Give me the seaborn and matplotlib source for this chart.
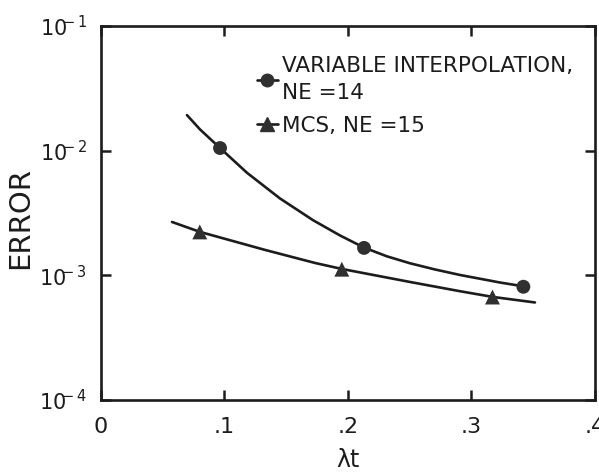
import numpy as np
import pandas as pd
import matplotlib
matplotlib.use("Agg")
import matplotlib.pyplot as plt
from matplotlib.lines import Line2D
from matplotlib.ticker import NullLocator
import seaborn as sns

# Measured error points
vi_x = [0.0964, 0.213, 0.342]
vi_err = [1.05e-2, 1.66e-3, 8.1e-4]
mcs_x = [0.080, 0.195, 0.317]
mcs_err = [2.23e-3, 1.12e-3, 6.7e-4]

# Hand-faired curves through the measurements
vi_curve_x = [0.0696, 0.0802, 0.0964, 0.1182, 0.1449, 0.1717, 0.1935,
              0.2130, 0.2316, 0.2502, 0.2704, 0.2907, 0.3231, 0.3417]
vi_curve_err = [1.93e-2, 1.48e-2, 1.05e-2, 6.65e-3, 4.14e-3, 2.77e-3, 2.09e-3,
                1.67e-3, 1.42e-3, 1.25e-3, 1.115e-3, 1.007e-3, 8.76e-4, 8.18e-4]
mcs_curve_x = [0.0575, 0.0802, 0.1328, 0.1733, 0.1951, 0.2502, 0.2907,
               0.3174, 0.3514]
mcs_curve_err = [2.68e-3, 2.23e-3, 1.60e-3, 1.257e-3, 1.125e-3, 8.85e-4, 7.46e-4,
                 6.71e-4, 6.06e-4]

x_ticks = [0.0, 0.1, 0.2, 0.3, 0.4]
x_tick_labels = ["0", ".1", ".2", ".3", ".4"]
y_ticks = [1e-4, 1e-3, 1e-2, 1e-1]
y_tick_labels = [r"$10^{\!\!\!-4}$", r"$10^{\!\!\!-3}$",
                 r"$10^{\!\!\!-2}$", r"$10^{\!\!\!-1}$"]

vi_label = "VARIABLE INTERPOLATION,\nNE =14"
mcs_label = "MCS, NE =15"

sns.set_style("ticks")
plt.rcParams["font.family"] = ["DejaVu Sans"]
plt.rcParams["mathtext.fontset"] = "dejavusans"

ink = "#1c1c1c"
mark = "#303030"

fig = plt.figure(figsize=(5.99, 4.72), dpi=100)
ax = fig.add_axes([0.1686, 0.1525, 0.9933 - 0.1686, 0.9449 - 0.1525])

vi_curve = pd.DataFrame({"x": vi_curve_x, "err": vi_curve_err})
mcs_curve = pd.DataFrame({"x": mcs_curve_x, "err": mcs_curve_err})
sns.lineplot(data=vi_curve, x="x", y="err", sort=False, estimator=None,
             color=ink, lw=1.9, ax=ax)
sns.lineplot(data=mcs_curve, x="x", y="err", sort=False, estimator=None,
             color=ink, lw=1.9, ax=ax)

sns.scatterplot(x=vi_x, y=vi_err, marker="o", s=100, color=mark,
                edgecolor="none", ax=ax, zorder=5)
sns.scatterplot(x=mcs_x, y=mcs_err, marker="^", s=115, color=mark,
                edgecolor="none", ax=ax, zorder=5)

ax.set_yscale("log")
ax.set_xlim(0, 0.4)
ax.set_ylim(1e-4, 1e-1)
ax.set_xticks(x_ticks)
ax.set_xticklabels(x_tick_labels, fontsize=16, color=ink)
ax.set_yticks(y_ticks)
ax.set_yticklabels(y_tick_labels, fontsize=15, color=ink)
ax.yaxis.set_minor_locator(NullLocator())
ax.tick_params(which="major", direction="in", length=7.5, width=1.8,
               top=True, right=True, color=ink)
ax.tick_params(axis="x", pad=12)
ax.tick_params(axis="y", pad=10)
for sp in ax.spines.values():
    sp.set_linewidth(1.9)
    sp.set_color(ink)

ax.set_xlabel("λt", fontsize=17, color=ink, labelpad=8)
ax.set_ylabel("ERROR", fontsize=21, color=ink)
ax.yaxis.set_label_coords(-0.136, 0.487)

handles = [
    Line2D([], [], color=ink, lw=1.9, marker="o", markersize=9,
           markerfacecolor=mark, markeredgecolor=mark),
    Line2D([], [], color=ink, lw=1.9, marker="^", markersize=10,
           markerfacecolor=mark, markeredgecolor=mark),
]
leg = ax.legend(handles, [vi_label, mcs_label], loc="upper left",
                bbox_to_anchor=(0.315, 0.921), frameon=False, fontsize=15.5,
                handlelength=1.0, handletextpad=0.2, labelspacing=0.6,
                borderpad=0, borderaxespad=0, labelcolor=ink)
for t in leg.get_texts():
    t.set_linespacing(1.45)

fig.savefig("out.png", dpi=100)
